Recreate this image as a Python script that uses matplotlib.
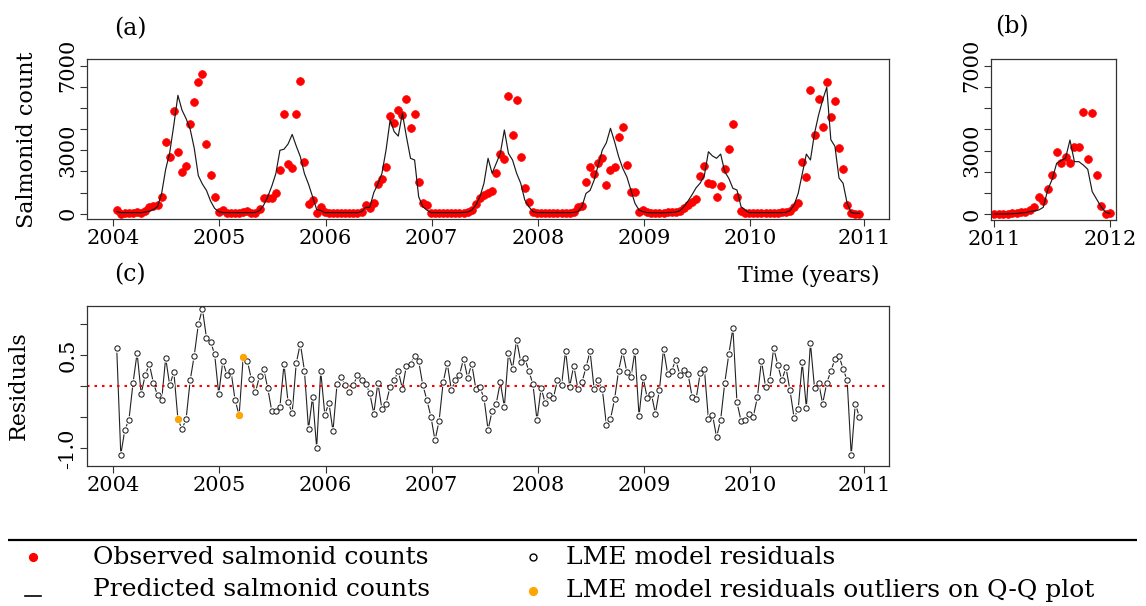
import numpy as np
import matplotlib
matplotlib.use("Agg")
import matplotlib.pyplot as plt

plt.rcParams['font.family'] = ['DejaVu Serif', 'DejaVu Sans']

# ---------------- data ----------------
# biweekly sampling times (26 samples per year)
n_a = 183
time_a = 2004.032 + np.arange(n_a) / 26.0

observed_a = [
    160, 0, 20, 20, 50, 60, 20, 140, 330, 360,
    410, 800, 3410, 2660, 4860, 2940, 1950, 2260, 4260, 5280,
    6210, 6590, 3300, 1810, 800, 80, 170, 20, 30, 20,
    40, 60, 110, 50, 50, 200, 760, 760, 730, 960,
    2050, 4700, 2330, 2140, 4700, 6290, 2460, 460, 630, 20,
    300, 100, 20, 30, 20, 20, 40, 30, 20, 40,
    60, 400, 250, 520, 1390, 1640, 2190, 4620, 4300, 4900,
    4670, 5410, 4040, 4700, 1510, 520, 410, 20, 30, 20,
    30, 30, 40, 30, 30, 50, 60, 170, 460, 760,
    880, 960, 1070, 1940, 2820, 2590, 5580, 3710, 5380, 2670,
    1230, 550, 100, 30, 20, 30, 20, 30, 30, 40,
    30, 50, 100, 300, 360, 1510, 2190, 1880, 2380, 2620,
    1360, 2070, 2190, 3640, 4090, 2300, 1040, 1040, 60, 170,
    60, 30, 20, 30, 40, 60, 80, 100, 150, 250,
    400, 550, 700, 1780, 2240, 1440, 1390, 790, 1310, 2130,
    3060, 4260, 800, 130, 50, 30, 30, 20, 30, 40,
    30, 40, 50, 60, 80, 150, 330, 520, 2430, 1750,
    5840, 3710, 5410, 4120, 6250, 4590, 5320, 3090, 2100, 430,
    20, 0, 0]

predicted_a = [
    100, 50, 50, 50, 50, 50, 50, 80, 120, 200,
    330, 950, 2100, 2900, 4200, 5600, 4900, 4500, 4000, 3100,
    1800, 1400, 1100, 600, 250, 100, 50, 50, 50, 50,
    50, 50, 50, 50, 60, 150, 400, 800, 1300, 1900,
    3000, 3050, 3300, 3750, 3200, 2700, 1900, 1400, 800, 200,
    150, 50, 50, 50, 50, 50, 50, 50, 50, 50,
    100, 300, 300, 1000, 1400, 1910, 3010, 4430, 3880, 3670,
    4750, 3640, 2620, 2540, 800, 330, 170, 50, 50, 50,
    50, 50, 50, 50, 50, 60, 80, 170, 410, 800,
    1440, 2620, 1910, 2380, 2850, 3960, 2850, 2540, 1910, 1440,
    650, 330, 100, 50, 50, 50, 50, 50, 50, 50,
    50, 50, 60, 100, 330, 960, 1100, 1590, 2300, 3010,
    3360, 4040, 3410, 2700, 2150, 1750, 1120, 490, 170, 100,
    50, 40, 40, 40, 40, 50, 60, 80, 140, 330,
    600, 900, 1230, 1450, 1800, 2930, 2730, 2620, 2820, 1990,
    1670, 1200, 1120, 330, 170, 50, 50, 50, 50, 50,
    50, 50, 50, 50, 60, 150, 410, 960, 1880, 2820,
    2540, 3800, 4670, 5380, 5980, 3500, 3190, 1690, 1440, 490,
    50, 20, 20]

residuals = [
    0.61, -1.10, -0.70, -0.54, 0.05, 0.53, -0.12, 0.18, 0.35, 0.05,
    -0.15, -0.23, 0.45, 0.01, 0.23, -0.53, -0.69, -0.53, 0.09, 0.49,
    0.99, 1.24, 0.77, 0.71, 0.51, -0.13, 0.40, 0.18, 0.24, -0.22,
    -0.47, 0.47, 0.41, 0.11, -0.10, 0.16, 0.28, -0.03, -0.40, -0.40,
    -0.33, 0.35, -0.26, -0.43, 0.37, 0.68, 0.25, -0.69, -0.17, -0.99,
    0.24, -0.46, -0.27, -0.72, 0.04, 0.14, 0.01, -0.09, 0.02, 0.17,
    0.09, 0.04, -0.11, -0.44, 0.05, -0.37, -0.28, -0.01, 0.10, 0.24,
    -0.04, 0.33, 0.36, 0.49, 0.40, 0.02, -0.22, -0.49, -0.87, -0.56,
    0.06, 0.37, -0.06, 0.09, 0.18, 0.44, 0.13, 0.36, -0.04, -0.02,
    -0.19, -0.70, -0.40, -0.28, 0.06, -0.33, 0.53, 0.28, 0.74, 0.39,
    0.45, 0.24, 0.03, -0.55, -0.03, -0.27, -0.14, -0.19, 0.09, 0.01,
    0.57, -0.01, 0.33, -0.04, 0.06, 0.30, 0.56, -0.05, 0.09, -0.05,
    -0.62, -0.53, -0.21, 0.25, 0.56, 0.23, 0.14, 0.56, -0.48, 0.14,
    -0.19, -0.12, -0.44, -0.06, 0.60, 0.20, 0.25, 0.42, 0.18, 0.26,
    0.20, -0.17, -0.20, 0.21, 0.28, -0.53, -0.46, -0.82, -0.54, 0.05,
    0.51, 0.93, -0.26, -0.56, -0.55, -0.44, -0.49, -0.18, 0.41, -0.01,
    0.09, 0.61, 0.34, 0.09, 0.30, -0.07, -0.51, -0.37, 0.38, -0.35,
    0.69, -0.03, 0.05, -0.28, 0.05, 0.24, 0.43, 0.48, 0.28, 0.09,
    -1.11, -0.28, -0.50]

outlier_idx = [15, 30, 31]   # residual outliers on Q-Q plot

n_b = 27
time_b = 2011.0 + np.arange(n_b) / 26.0
observed_b = [16, 16, 16, 31, 47, 63, 94, 126, 204, 330, 832, 644, 1190, 1850,
              2950, 2430, 2720, 2400, 3190, 3190, 4840, 2610, 4760, 1850, 410, 16, 80]
predicted_b = [16, 16, 16, 20, 30, 40, 60, 80, 126, 160, 204, 330, 1150, 1650,
               2400, 2530, 2640, 3500, 2480, 2480, 2320, 2120, 1070, 710, 360, 94, 47]

year_ticks = [2004, 2005, 2006, 2007, 2008, 2009, 2010, 2011.08]
year_labels = ["2004", "2005", "2006", "2007", "2008", "2009", "2010", "2011"]
count_ticks = [0, 1000, 2000, 3000, 4000, 5000, 6000, 7000]
count_labels = ["0", "", "", "3000", "", "", "", "7000"]
resid_ticks = [-1.0, -0.5, 0.0, 0.5, 1.0]
resid_labels = ["-1.0", "", "", "0.5", ""]

# ---------------- figure ----------------
W, H = 1146, 606
fig = plt.figure(figsize=(W / 100, H / 100), dpi=100)


def px_axes(l, t, r, b):
    return fig.add_axes([l / W, 1 - b / H, (r - l) / W, (b - t) / H])


ax_a = px_axes(87, 59, 889, 219)
ax_b = px_axes(991, 59, 1116, 220)
ax_c = px_axes(87, 306, 889, 466)

for ax in (ax_a, ax_b, ax_c):
    for sp in ax.spines.values():
        sp.set_linewidth(0.9)
        sp.set_color('#333333')
    ax.tick_params(direction='out', length=5, width=0.8, labelsize=15,
                   color='#333333', pad=2)
    ax.tick_params(axis='y', labelrotation=90, pad=2)

red = '#FF0000'
# panel (a)
ax_a.plot(time_a, observed_a, 'o', color=red, ms=5.6, mec=red, mew=0.5, zorder=2)
ax_a.plot(time_a, predicted_a, '-', color='#1a1a1a', lw=0.85, zorder=3)
ax_a.set_xlim(2003.752, 2011.311)
ax_a.set_ylim(-251, 7318)
ax_a.set_xticks(year_ticks)
ax_a.set_xticklabels(year_labels)
ax_a.set_yticks(count_ticks)
ax_a.set_yticklabels(count_labels)

# panel (b)
ax_b.plot(time_b, observed_b, 'o', color=red, ms=5.6, mec=red, mew=0.5, zorder=2)
ax_b.plot(time_b, predicted_b, '-', color='#1a1a1a', lw=0.85, zorder=3)
ax_b.set_xlim(2010.971, 2012.052)
ax_b.set_ylim(-268, 7315)
ax_b.set_xticks([2011, 2012])
ax_b.set_xticklabels(["2011", "2012"])
ax_b.set_yticks(count_ticks)
ax_b.set_yticklabels(count_labels)

# panel (c)
res = np.array(residuals)
ax_c.plot(time_a, res, '-', color='#222222', lw=0.8, zorder=1)
ax_c.plot(time_a, res, 'o', ms=6.2, mfc='white', mec='white', mew=0, zorder=2)
ax_c.axhline(0, color=red, ls=(0, (1.2, 2.4)), lw=1.5, zorder=2.5)
ax_c.plot(time_a, res, 'o', ms=3.8, mfc='white', mec='#111111', mew=0.7, zorder=3)
ax_c.plot(time_a[outlier_idx], res[outlier_idx], 'o', ms=4.2, color='#FFA500',
          mec='#FFA500', zorder=4)
ax_c.set_xlim(2003.752, 2011.311)
ax_c.set_ylim(-1.282, 1.285)
ax_c.set_xticks(year_ticks)
ax_c.set_xticklabels(year_labels)
ax_c.set_yticks(resid_ticks)
ax_c.set_yticklabels(resid_labels)

for ax in (ax_a, ax_b, ax_c):
    for lbl in ax.get_yticklabels():
        lbl.set_va('center')


def ftext(x, y, s, **kw):
    fig.text(x / W, 1 - y / H, s, **kw)


ftext(130, 29, "(a)", fontsize=17, ha='center', va='center')
ftext(1012, 27, "(b)", fontsize=17, ha='center', va='center')
ftext(130, 275, "(c)", fontsize=17, ha='center', va='center')
ftext(27, 140, "Salmonid count", fontsize=16, rotation=90, ha='center', va='center')
ftext(19, 386, "Residuals", fontsize=16, rotation=90, ha='center', va='center')
ftext(880, 276, "Time (years)", fontsize=16, ha='right', va='center')

# ---------------- legend ----------------
lg = fig.add_axes([0, 0, 1, 1], zorder=-1)
lg.set_xlim(0, W)
lg.set_ylim(H, 0)
lg.axis('off')
lg.plot([8, 1137], [540, 540], color='black', lw=1.6, solid_capstyle='butt')
lg.plot([33], [557], 'o', color=red, ms=5.6)
lg.plot([25, 41], [596, 596], color='black', lw=1.2)
lg.plot([533], [557], 'o', ms=5, mfc='white', mec='black', mew=1.0)
lg.plot([533], [591], 'o', ms=5.6, color='#FFA500')
lg.text(93, 557, "Observed salmonid counts", fontsize=18, va='center', ha='left')
lg.text(93, 590, "Predicted salmonid counts", fontsize=18, va='center', ha='left')
lg.text(566, 557, "LME model residuals", fontsize=18, va='center', ha='left')
lg.text(566, 590, "LME model residuals outliers on Q-Q plot", fontsize=18,
        va='center', ha='left')

fig.savefig("out.png", dpi=100)
